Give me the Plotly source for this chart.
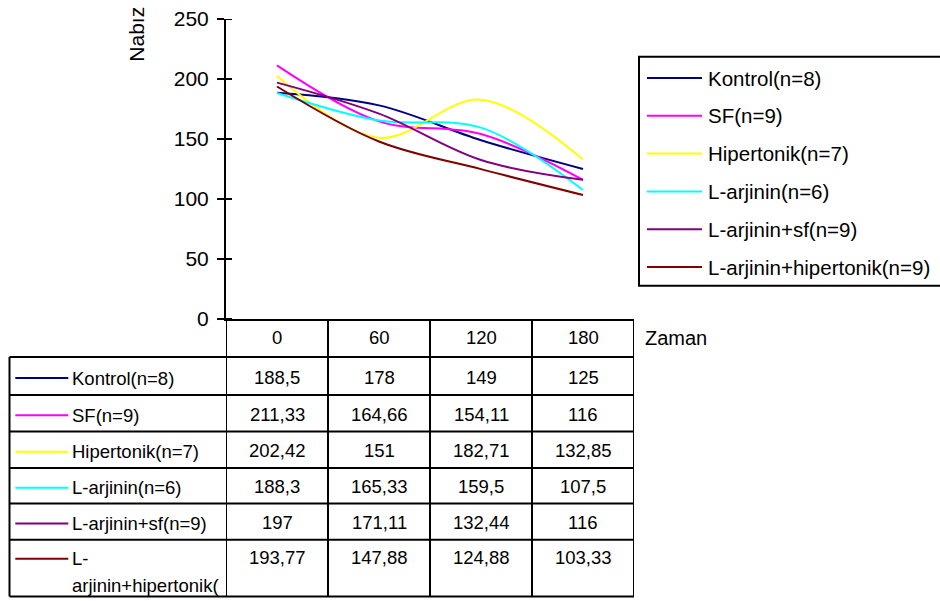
import plotly.graph_objects as go

# --- data -------------------------------------------------------------
times = ["0", "60", "120", "180"]
series_names = [
    "Kontrol(n=8)",
    "SF(n=9)",
    "Hipertonik(n=7)",
    "L-arjinin(n=6)",
    "L-arjinin+sf(n=9)",
    "L-arjinin+hipertonik(n=9)",
]
# labels as they appear (wrapped / cut) in the data table
table_labels = [
    "Kontrol(n=8)",
    "SF(n=9)",
    "Hipertonik(n=7)",
    "L-arjinin(n=6)",
    "L-arjinin+sf(n=9)",
    "L-<br>arjinin+hipertonik(",
]
kontrol = [188.5, 178, 149, 125]
sf = [211.33, 164.66, 154.11, 116]
hipertonik = [202.42, 151, 182.71, 132.85]
l_arjinin = [188.3, 165.33, 159.5, 107.5]
l_arjinin_sf = [197, 171.11, 132.44, 116]
l_arjinin_hipertonik = [193.77, 147.88, 124.88, 103.33]
series_values = [kontrol, sf, hipertonik, l_arjinin, l_arjinin_sf, l_arjinin_hipertonik]
colors = ["#000080", "#FF00FF", "#FFFF00", "#00FFFF", "#800080", "#800000"]
y_ticks = [0, 50, 100, 150, 200, 250]
y_title = "Nabız"
x_title = "Zaman"

# --- layout geometry (pixels) -----------------------------------------
W, H = 940, 601
PL, PR = 226.0, 634.0      # plot area left / right
PT, PB = 19.3, 319.3       # plot area top / bottom
FONT = "Liberation Sans, Arial, sans-serif"


def fx(px):
    return (px - PL) / (PR - PL)


def fy(py):
    return (PB - py) / (PB - PT)


def fmt(v):
    return f"{v:g}".replace(".", ",")


idx = list(range(len(times)))

fig = go.Figure()
for name, vals, col in zip(series_names, series_values, colors):
    fig.add_trace(go.Scatter(
        x=idx, y=vals, name=name, mode="lines",
        line=dict(color=col, width=2, shape="spline", smoothing=1.0),
        showlegend=False,
    ))

shapes = []
annotations = []
LINE = dict(color="black", width=2)

# inner half of the crossing y ticks
for v in y_ticks:
    shapes.append(dict(type="line", xref="paper", yref="y",
                       x0=fx(PL), x1=fx(PL + 6), y0=v, y1=v, line=LINE))

# --- data table below the plot ------------------------------------------
row_lines = [357.3, 395.3, 431.7, 468.3, 503.7, 540.0, 596.7]
TABLE_LEFT = 9.5
for py in row_lines:
    shapes.append(dict(type="line", xref="paper", yref="paper",
                       x0=fx(TABLE_LEFT), x1=fx(PR), y0=fy(py), y1=fy(py), line=LINE))
shapes.append(dict(type="line", xref="paper", yref="paper",
                   x0=fx(TABLE_LEFT), x1=fx(TABLE_LEFT),
                   y0=fy(row_lines[0]), y1=fy(row_lines[-1]), line=LINE))
for k in range(len(times) + 1):
    xb = k - 0.5
    shapes.append(dict(type="line", xref="x", yref="paper",
                       x0=xb, x1=xb, y0=fy(PB), y1=fy(row_lines[-1]), line=LINE))

TFONT = dict(family=FONT, size=18.5, color="black")
for i, t in enumerate(times):
    annotations.append(dict(x=i, xref="x", y=fy(338), yref="paper", text=t,
                            showarrow=False, font=TFONT, xanchor="center", yanchor="middle"))

for r, (lab, vals, col) in enumerate(zip(table_labels, series_values, colors)):
    top, bot = row_lines[r], row_lines[r + 1]
    if "<br>" in lab:
        cy = top + 18
    else:
        cy = (top + bot) / 2 + 1
    for i, v in enumerate(vals):
        annotations.append(dict(x=i, xref="x", y=fy(cy), yref="paper", text=fmt(v),
                                showarrow=False, font=TFONT, xanchor="center", yanchor="middle"))
    shapes.append(dict(type="line", xref="paper", yref="paper",
                       x0=fx(15.3), x1=fx(68.3), y0=fy(cy + 1), y1=fy(cy + 1),
                       line=dict(color=col, width=2)))
    for j, part in enumerate(lab.split("<br>")):
        annotations.append(dict(x=fx(69.5), xref="paper", y=fy(cy + 1 + 27 * j), yref="paper",
                                text=part, showarrow=False, font=TFONT,
                                xanchor="left", yanchor="middle"))

# --- legend box -----------------------------------------------------------
LG_TOP, LG_BOT, LG_LEFT = 57.0, 286.0, 639.0
shapes.append(dict(type="rect", xref="paper", yref="paper",
                   x0=fx(LG_LEFT), x1=fx(W + 10), y0=fy(LG_TOP), y1=fy(LG_BOT),
                   line=LINE, fillcolor="rgba(0,0,0,0)"))
LFONT = dict(family=FONT, size=20.5, color="black")
for k, (name, col) in enumerate(zip(series_names, colors)):
    ly = 78.3 + 37.8 * k
    shapes.append(dict(type="line", xref="paper", yref="paper",
                       x0=fx(647), x1=fx(702), y0=fy(ly), y1=fy(ly),
                       line=dict(color=col, width=2)))
    annotations.append(dict(x=fx(706), xref="paper", y=fy(ly), yref="paper", text=name,
                            showarrow=False, font=LFONT, xanchor="left", yanchor="middle"))

# axis titles
annotations.append(dict(x=fx(137), xref="paper", y=fy(35), yref="paper", text=y_title,
                        textangle=-90, showarrow=False,
                        font=dict(family=FONT, size=21, color="black"),
                        xanchor="center", yanchor="middle"))
annotations.append(dict(x=fx(643), xref="paper", y=fy(338), yref="paper", text=x_title,
                        showarrow=False, font=dict(family=FONT, size=20, color="black"),
                        xanchor="left", yanchor="middle"))

fig.update_layout(
    width=W, height=H,
    margin=dict(l=PL, r=W - PR, t=PT, b=H - PB, pad=0, autoexpand=False),
    paper_bgcolor="white", plot_bgcolor="white",
    font=dict(family=FONT, color="black"),
    showlegend=False,
    shapes=shapes,
    annotations=annotations,
    xaxis=dict(range=[-0.5, len(times) - 0.5], showgrid=False, zeroline=False,
               showline=True, linecolor="black", linewidth=2,
               ticks="", showticklabels=False, fixedrange=True),
    yaxis=dict(range=[0, 250], tickvals=y_ticks, showgrid=False, zeroline=False,
               showline=True, linecolor="black", linewidth=2,
               ticks="outside", ticklen=7, tickwidth=2, tickcolor="black",
               ticklabelstandoff=4,
               tickfont=dict(family=FONT, size=21, color="black"), fixedrange=True),
)

fig.write_html("out.html")
